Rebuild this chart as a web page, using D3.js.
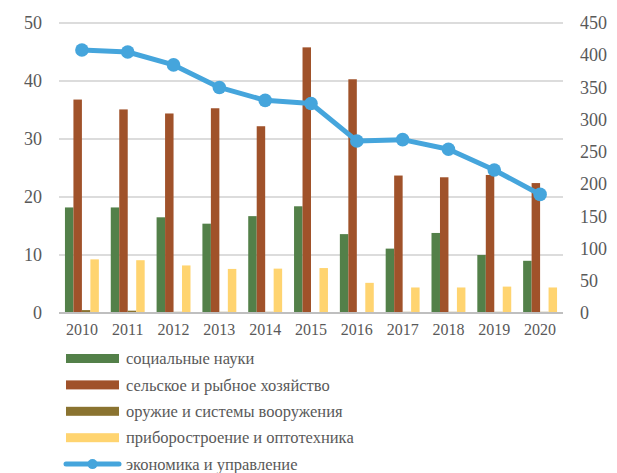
<!DOCTYPE html>
<html><head><meta charset="utf-8">
<script src="https://cdn.jsdelivr.net/npm/d3@7"></script>
<style>body{margin:0;background:#fff}svg{display:block}text{font-family:"Liberation Serif","Times New Roman",serif;fill:#595959}</style>
</head><body><svg id="c" width="617" height="473"></svg>
<script>
const years = ["2010","2011","2012","2013","2014","2015","2016","2017","2018","2019","2020"];
const socialSciences = [18.2,18.2,16.5,15.4,16.7,18.4,13.6,11.1,13.8,10.0,9.0];
const agriculture = [36.8,35.1,34.4,35.3,32.2,45.8,40.3,23.7,23.4,23.8,22.4];
const weapons = [0.5,0.4,0.2,0.2,0.2,0.1,0.0,0.2,0.2,0.2,0.2];
const instruments = [9.25,9.1,8.2,7.6,7.65,7.75,5.2,4.4,4.4,4.55,4.4];
const economics = [408,405,385,350,330,325,267,269,254,222,184];
const leftTicks = [0,10,20,30,40,50];
const rightTicks = [0,50,100,150,200,250,300,350,400,450];
const barNames = ["социальные науки","сельское и рыбное хозяйство","оружие и системы вооружения","приборостроение и оптотехника"];
const lineName = "экономика и управление";
const barColors = ["#538049","#a0522a","#8a7330","#ffd470"];
const lineColor = "#45a5dc";

const barSeries = [socialSciences, agriculture, weapons, instruments];
const svg = d3.select("#c");
const L = 59, R = 563, T = 23, B = 313;
const x = d3.scaleBand().domain(years).range([L, R]);
const xs = d3.scaleBand().domain(d3.range(4)).range([x.bandwidth()*0.13, x.bandwidth()*0.87]);
const yL = d3.scaleLinear().domain([0,50]).range([B, T]);
const yR = d3.scaleLinear().domain([0,450]).range([B, T]);

// gridlines
svg.append("g").selectAll("line").data(leftTicks.filter(d=>d>0)).join("line")
  .attr("x1", L).attr("x2", R).attr("y1", d=>yL(d)).attr("y2", d=>yL(d))
  .attr("stroke", "#d0d0d0").attr("stroke-width", 1.3);

// bars
barSeries.forEach((s, i) => {
  svg.append("g").selectAll("rect").data(s).join("rect")
    .attr("x", (d, j) => x(years[j]) + xs(i))
    .attr("width", xs.bandwidth())
    .attr("y", d => yL(d))
    .attr("height", d => B - yL(d))
    .attr("fill", barColors[i]);
});

// baseline
svg.append("line").attr("x1", L).attr("x2", R).attr("y1", B).attr("y2", B)
  .attr("stroke", "#bfbfbf").attr("stroke-width", 2);

function styleAxis(g, size) {
  g.attr("font-family", null).attr("font-size", null);
  g.select(".domain").remove();
  g.selectAll("text").attr("font-size", size)
    .style("font-family", "'Liberation Serif', 'Times New Roman', serif").attr("fill", "#595959");
}

// left axis
const axL = d3.axisLeft(yL).tickValues(leftTicks).tickSize(0).tickPadding(0);
const gL = svg.append("g").attr("transform", `translate(42,0)`).call(axL);
styleAxis(gL, 18);

// right axis
const axR = d3.axisRight(yR).tickValues(rightTicks).tickSize(0).tickPadding(0);
const gR = svg.append("g").attr("transform", `translate(580,0)`).call(axR);
styleAxis(gR, 18);

// bottom axis
const axB = d3.axisBottom(x).tickSize(0).tickPadding(0);
const gB = svg.append("g").attr("transform", `translate(0,324)`).call(axB);
styleAxis(gB, 16);

// line
const cx = (d, j) => x(years[j]) + x.bandwidth()/2;
svg.append("path").datum(economics)
  .attr("d", d3.line().x(cx).y(d => yR(d)))
  .attr("fill", "none").attr("stroke", lineColor).attr("stroke-width", 5).attr("stroke-linejoin", "round");
svg.append("g").selectAll("circle").data(economics).join("circle")
  .attr("cx", cx).attr("cy", d => yR(d)).attr("r", 6.8).attr("fill", lineColor);

// legend
const lg = svg.append("g");
const rowY = d => 358.5 + d * 26.4;
barNames.forEach((n, i) => {
  lg.append("rect").attr("x", 66).attr("y", rowY(i) - 4.5).attr("width", 53).attr("height", 9).attr("fill", barColors[i]);
  lg.append("text").attr("x", 126).attr("y", rowY(i)).attr("dy", "0.35em").attr("font-size", 16.5).text(n);
});
lg.append("line").attr("x1", 66).attr("x2", 119).attr("y1", rowY(4)).attr("y2", rowY(4))
  .attr("stroke", lineColor).attr("stroke-width", 5).attr("stroke-linecap", "round");
lg.append("circle").attr("cx", 92.5).attr("cy", rowY(4)).attr("r", 5).attr("fill", lineColor);
lg.append("text").attr("x", 126).attr("y", rowY(4)).attr("dy", "0.35em").attr("font-size", 16.5).text(lineName);
</script></body></html>
